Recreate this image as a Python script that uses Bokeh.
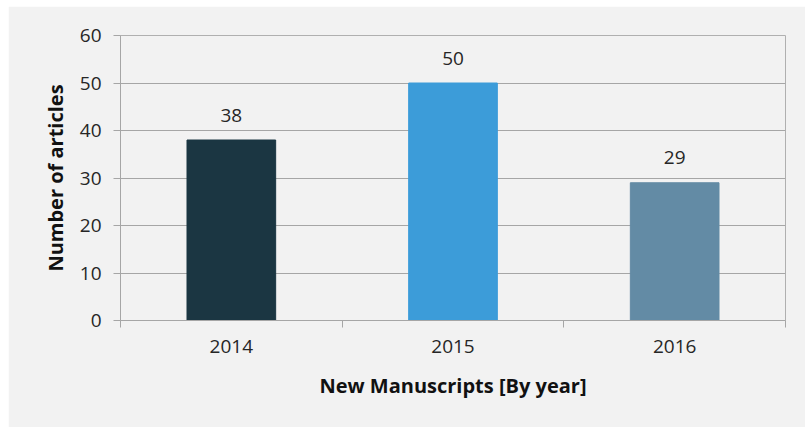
from bokeh.plotting import figure
from bokeh.models import Range1d, FixedTicker, ColumnDataSource
from bokeh.core.properties import value
from bokeh.embed import file_html
from bokeh.resources import INLINE

years = ["2014", "2015", "2016"]
articles = [38, 50, 29]
colors = ["#1b3642", "#3c9cd9", "#638ba5"]
y_ticks = [0, 10, 20, 30, 40, 50, 60]

FONT = "Open Sans"

xpos = [i + 0.5 for i in range(len(years))]
src = ColumnDataSource(dict(x=xpos, top=articles, color=colors,
                            label=[str(v) for v in articles]))

p = figure(width=797, height=421, output_backend="svg", toolbar_location=None,
           x_range=Range1d(0, len(years)), y_range=Range1d(0, 60),
           min_border_left=112, min_border_right=20, min_border_top=29,
           min_border_bottom=107)
p.margin = (6, 0, 0, 8)
p.background_fill_color = "#f2f2f2"
p.border_fill_color = "#f2f2f2"
p.outline_line_color = "#b0b0b0"
p.outline_line_width = 1

p.vbar(x="x", top="top", width=0.4, color="color", source=src)
p.text(x="x", y="top", text="label", source=src, text_align="center",
       text_baseline="middle", y_offset=-25, text_font=value(FONT),
       text_font_size="19px", text_color="#262626")

# grid
p.xgrid.grid_line_color = None
p.ygrid.grid_line_color = "#a6a6a6"
p.ygrid.grid_line_width = 1

# y axis
p.yaxis.ticker = FixedTicker(ticks=y_ticks)
p.yaxis.axis_line_color = "#a6a6a6"
p.yaxis.major_tick_line_color = "#a6a6a6"
p.yaxis.major_tick_out = 7
p.yaxis.major_tick_in = 0
p.yaxis.minor_tick_line_color = None
p.yaxis.major_label_text_font = FONT
p.yaxis.major_label_text_font_size = "19px"
p.yaxis.major_label_text_color = "#262626"
p.yaxis.major_label_standoff = 12
p.yaxis.axis_label = "Number of articles"
p.yaxis.axis_label_text_font = FONT
p.yaxis.axis_label_text_font_size = "20px"
p.yaxis.axis_label_text_font_style = "bold"
p.yaxis.axis_label_text_color = "#111111"
p.yaxis.axis_label_standoff = 8

# x axis
p.xaxis.ticker = FixedTicker(ticks=xpos, minor_ticks=list(range(len(years) + 1)))
p.xaxis.major_label_overrides = {x: y for x, y in zip(xpos, years)}
p.xaxis.axis_line_color = "#a6a6a6"
p.xaxis.major_tick_line_color = None
p.xaxis.major_tick_out = 7
p.xaxis.minor_tick_line_color = "#a6a6a6"
p.xaxis.minor_tick_out = 7
p.xaxis.minor_tick_in = 0
p.xaxis.major_label_text_font = FONT
p.xaxis.major_label_text_font_size = "19px"
p.xaxis.major_label_text_color = "#262626"
p.xaxis.major_label_standoff = 12
p.xaxis.axis_label = "New Manuscripts [By year]"
p.xaxis.axis_label_text_font = FONT
p.xaxis.axis_label_text_font_size = "20px"
p.xaxis.axis_label_text_font_style = "bold"
p.xaxis.axis_label_text_color = "#111111"
p.xaxis.axis_label_standoff = 16

open("out.html", "w").write(file_html(p, INLINE))
